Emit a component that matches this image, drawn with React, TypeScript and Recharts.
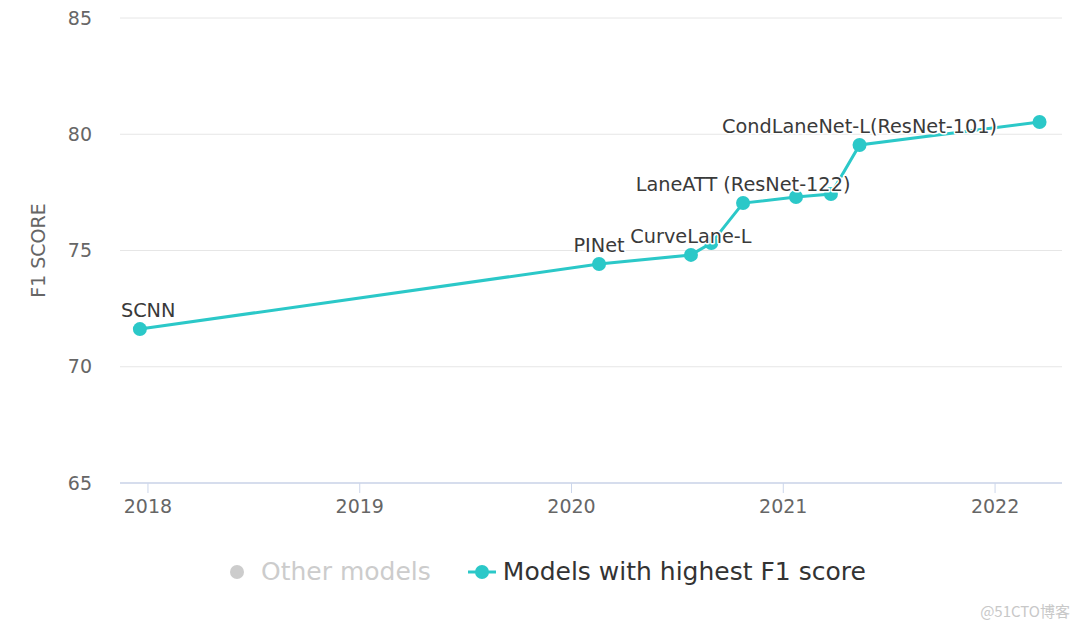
import React from "react";
import { LineChart, Line, XAxis, YAxis, CartesianGrid, Legend, LabelList } from "recharts";

const years = [2017.962, 2020.13, 2020.564, 2020.66, 2020.81, 2021.06, 2021.225, 2021.36, 2022.21];
const f1Scores = [71.62, 74.42, 74.81, 75.32, 77.04, 77.3, 77.43, 79.54, 80.53];
const modelNames = ["SCNN", "PINet", "CurveLane-L", "", "LaneATT (ResNet-122)", "", "", "CondLaneNet-L(ResNet-101)", ""];
const xTicks = [2018, 2019, 2020, 2021, 2022];
const yTicks = [65, 70, 75, 80, 85];
const legendItems = ["Other models", "Models with highest F1 score"];

const data = years.map((y, i) => ({ year: y, f1: f1Scores[i], name: modelNames[i] }));

const TEAL = "#2BC8C8";
const FONT = "'DejaVu Sans', Verdana, sans-serif";

const PointLabel = (props: any) => {
  const { x, y, value, index } = props;
  if (!value) return null;
  const first = index === 0;
  return (
    <text
      x={first ? x - 19 : x}
      y={y - 12}
      textAnchor={first ? "start" : "middle"}
      fontSize={19.3}
      fontFamily={FONT}
      fill="#3a3a3a"
      stroke="#fff"
      strokeWidth={3}
      paintOrder="stroke"
      strokeLinejoin="round"
    >
      {value}
    </text>
  );
};

const LegendContent = () => (
  <div
    style={{
      height: 117,
      width: 1080,
      boxSizing: "border-box",
      paddingTop: 44,
      paddingLeft: 229,
      display: "flex",
      justifyContent: "flex-start",
      alignItems: "flex-start",
      fontFamily: FONT,
      fontSize: 25,
      lineHeight: "30px",
    }}
  >
    <div style={{ display: "flex", alignItems: "center", marginRight: 36 }}>
      <svg width={32} height={30}>
        <circle cx={8} cy={15} r={7} fill="#cccccc" />
      </svg>
      <span style={{ color: "#cccccc" }}>{legendItems[0]}</span>
    </div>
    <div style={{ display: "flex", alignItems: "center" }}>
      <svg width={36} height={30}>
        <line x1={1} y1={15} x2={29} y2={15} stroke={TEAL} strokeWidth={3} />
        <circle cx={15} cy={15} r={7} fill={TEAL} />
      </svg>
      <span style={{ color: "#333" }}>{legendItems[1]}</span>
    </div>
  </div>
);

export default function App() {
  return (
    <div style={{ position: "absolute", left: 0, top: 0, width: 1080, height: 630, background: "#fff" }}>
      <LineChart width={1080} height={630} data={data} margin={{ top: 18, right: 18, left: 60, bottom: 0 }}>
        <CartesianGrid horizontal vertical={false} stroke="#e6e6e6" strokeWidth={1} />
        <XAxis
          dataKey="year"
          type="number"
          domain={[2017.868, 2022.316]}
          allowDataOverflow
          ticks={xTicks}
          height={30}
          axisLine={{ stroke: "#ccd6eb", strokeWidth: 1.5 }}
          tickLine={{ stroke: "#ccd6eb" }}
          tickSize={10}
          tickMargin={7}
          tick={{ fill: "#666", fontSize: 19, fontFamily: FONT }}
        />
        <YAxis
          type="number"
          domain={[65, 85]}
          ticks={yTicks}
          width={60}
          axisLine={false}
          tickLine={false}
          tickSize={0}
          tickMargin={28}
          tick={{ fill: "#666", fontSize: 19, fontFamily: FONT }}
          label={{
            value: "F1 SCORE",
            angle: -90,
            position: "insideLeft",
            dx: -27,
            dy: 0,
            style: { fill: "#666", fontSize: 19, fontFamily: FONT, textAnchor: "middle" },
          }}
        />
        <Legend verticalAlign="bottom" wrapperStyle={{ left: 0, width: 1080 }} content={<LegendContent />} />
        <Line
          type="linear"
          dataKey="f1"
          stroke={TEAL}
          strokeWidth={3}
          dot={{ r: 7, fill: TEAL, stroke: TEAL, strokeWidth: 0 }}
          activeDot={false}
          isAnimationActive={false}
        >
          <LabelList dataKey="name" content={<PointLabel />} />
        </Line>
        <text x={1070} y={617} textAnchor="end" fontSize={15} fill="#c8c8c8" fontFamily="'Noto Sans CJK SC', sans-serif">
          @51CTO博客
        </text>
      </LineChart>
    </div>
  );
}
